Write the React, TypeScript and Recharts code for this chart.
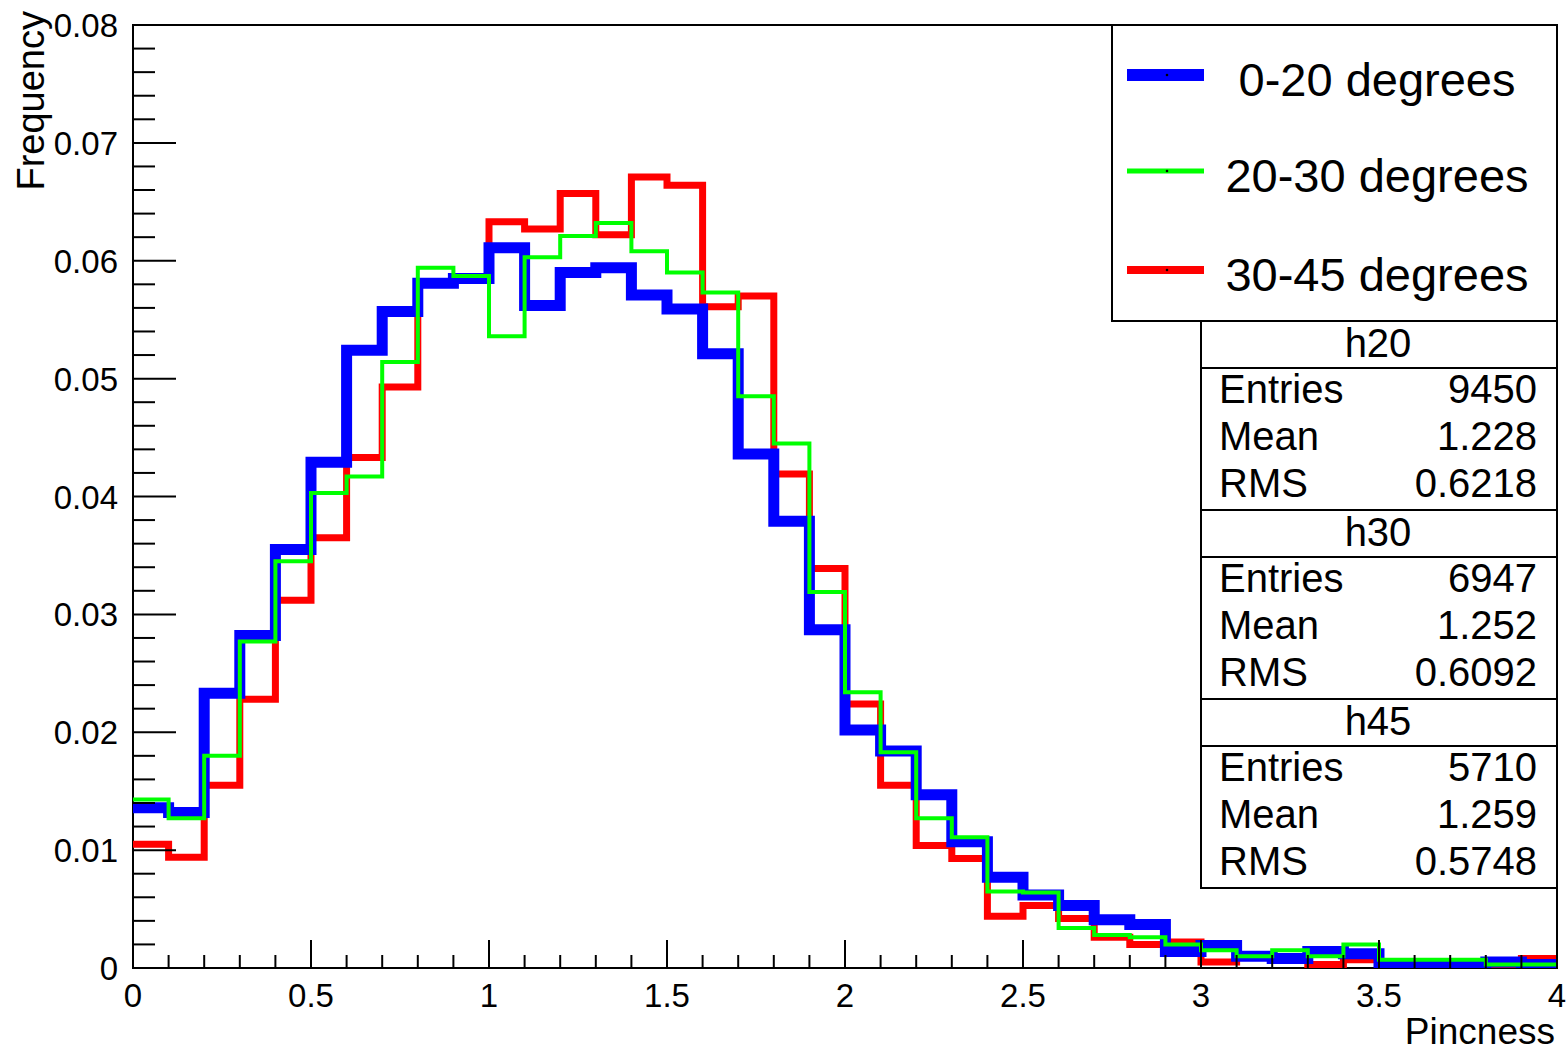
import React from "react"
import { LineChart, Line, XAxis, YAxis, ReferenceArea, Legend } from "recharts"

const FONT = "'Liberation Sans', Arial, Helvetica, sans-serif"

// bin edges (40 bins of width 0.1 from 0 to 4)
const binEdges = [
  0, 0.1, 0.2, 0.3, 0.4, 0.5, 0.6, 0.7, 0.8, 0.9,
  1, 1.1, 1.2, 1.3, 1.4, 1.5, 1.6, 1.7, 1.8, 1.9,
  2, 2.1, 2.2, 2.3, 2.4, 2.5, 2.6, 2.7, 2.8, 2.9,
  3, 3.1, 3.2, 3.3, 3.4, 3.5, 3.6, 3.7, 3.8, 3.9, 4,
]

// 0-20 degrees
const h20 = [
  0.0136, 0.0132, 0.0233, 0.0282, 0.0355, 0.0429, 0.0524, 0.0557, 0.0581, 0.0585,
  0.0611, 0.0562, 0.059, 0.0594, 0.0571, 0.0559, 0.0521, 0.0436, 0.0379, 0.0287,
  0.0202, 0.0184, 0.0147, 0.0107, 0.0077, 0.0062, 0.0053, 0.0041, 0.0037, 0.0014,
  0.0019, 0.001, 0.0008, 0.0014, 0.0012, 0.0002, 0.0002, 0.0002, 0.0005, 0.0003,
]

// 20-30 degrees
const h30 = [
  0.0143, 0.0127, 0.018, 0.0277, 0.0345, 0.0403, 0.0417, 0.0514, 0.0594, 0.0587,
  0.0536, 0.0603, 0.0621, 0.0632, 0.0608, 0.059, 0.0573, 0.0485, 0.0445, 0.0319,
  0.0234, 0.0183, 0.0127, 0.0111, 0.0065, 0.0064, 0.0034, 0.0028, 0.0026, 0.002,
  0.0015, 0.001, 0.0015, 0.001, 0.002, 0.0007, 0.0007, 0.0007, 0.0003, 0.0003,
]

// 30-45 degrees
const h45 = [
  0.0105, 0.0094, 0.0155, 0.0228, 0.0312, 0.0365, 0.0433, 0.0493, 0.058, 0.0585,
  0.0633, 0.0627, 0.0657, 0.0622, 0.0671, 0.0664, 0.0561, 0.057, 0.0419, 0.0339,
  0.0224, 0.0155, 0.0104, 0.0093, 0.0044, 0.0053, 0.0042, 0.0026, 0.002, 0.0022,
  0.0005, 0.001, 0.0008, 0.0003, 0.0007, 0, 0.0001, 0.0001, 0.0003, 0.0008,
]

const yTicks = [
  0, 0.002, 0.004, 0.006, 0.008, 0.01, 0.012, 0.014, 0.016, 0.018,
  0.02, 0.022, 0.024, 0.026, 0.028, 0.03, 0.032, 0.034, 0.036, 0.038,
  0.04, 0.042, 0.044, 0.046, 0.048, 0.05, 0.052, 0.054, 0.056, 0.058,
  0.06, 0.062, 0.064, 0.066, 0.068, 0.07, 0.072, 0.074, 0.076, 0.078, 0.08,
]

const series = [
  { key: "h20", label: "0-20 degrees", color: "#0000ff", width: 11 },
  { key: "h30", label: "20-30 degrees", color: "#00ff00", width: 4 },
  { key: "h45", label: "30-45 degrees", color: "#ff0000", width: 7 },
]

const stats = [
  { name: "h20", entries: "9450", mean: "1.228", rms: "0.6218" },
  { name: "h30", entries: "6947", mean: "1.252", rms: "0.6092" },
  { name: "h45", entries: "5710", mean: "1.259", rms: "0.5748" },
]

// stepAfter needs one extra point at the upper edge repeating the last bin
const data = binEdges.map((x, i) => {
  const j = Math.min(i, h20.length - 1)
  return { x, h20: h20[j], h30: h30[j], h45: h45[j] }
})

function YTick(props: any) {
  const { x, y, payload } = props
  const v = payload.value as number
  const major = Math.round(v * 1000) % 10 === 0
  return (
    <g>
      <line x1={x} x2={x + (major ? 43 : 22)} y1={y} y2={y} stroke="#000" strokeWidth={2} />
      {major && (
        <text x={x - 15} y={y} dy={12} textAnchor="end" fontSize={33} fontFamily={FONT} fill="#000">
          {v === 0 ? "0" : v.toFixed(2)}
        </text>
      )}
    </g>
  )
}

function XTick(props: any) {
  const { x, y, payload } = props
  const v = payload.value as number
  const major = Math.round(v * 10) % 5 === 0
  return (
    <g>
      <line x1={x} x2={x} y1={y} y2={y - (major ? 28 : 13)} stroke="#000" strokeWidth={2} />
      {major && (
        <text x={x} y={y + 39} textAnchor="middle" fontSize={33} fontFamily={FONT} fill="#000">
          {String(Number(v.toFixed(1)))}
        </text>
      )}
    </g>
  )
}

function LegendBox() {
  return (
    <svg width={447} height={298} style={{ display: "block" }}>
      <rect x={1} y={1} width={445} height={296} fill="#fff" stroke="#000" strokeWidth={2} />
      {series.map((s, i) => {
        const ly = [51, 147, 246][i]
        return (
          <g key={s.key}>
            <line x1={16} x2={93} y1={ly} y2={ly} stroke={s.color} strokeWidth={s.width + 1} />
            <circle cx={56} cy={ly} r={1.3} fill="#000" />
            <text x={266} y={ly + 21} textAnchor="middle" fontSize={47} fontFamily={FONT} fill="#000">
              {s.label}
            </text>
          </g>
        )
      })}
    </svg>
  )
}

function StatsBox() {
  return (
    <svg width={358} height={570} style={{ position: "absolute", left: 1200, top: 320 }}>
      {stats.map((s, i) => {
        const top = 1 + i * 189
        return (
          <g key={s.name} fontFamily={FONT} fontSize={40} fill="#000">
            <rect x={1} y={top} width={356} height={189} fill="#fff" stroke="#000" strokeWidth={2} />
            <line x1={1} x2={357} y1={top + 47} y2={top + 47} stroke="#000" strokeWidth={2} />
            <text x={178} y={top + 36} textAnchor="middle">{s.name}</text>
            <text x={19} y={top + 82}>Entries</text>
            <text x={337} y={top + 82} textAnchor="end">{s.entries}</text>
            <text x={19} y={top + 129}>Mean</text>
            <text x={337} y={top + 129} textAnchor="end">{s.mean}</text>
            <text x={19} y={top + 176}>RMS</text>
            <text x={337} y={top + 176} textAnchor="end">{s.rms}</text>
          </g>
        )
      })}
    </svg>
  )
}

export default function App() {
  return (
    <div style={{ position: "absolute", left: 0, top: 0, width: 1568, height: 1054, background: "#fff", fontFamily: FONT }}>
      <LineChart width={1568} height={1054} data={data} margin={{ top: 25, right: 11, left: 0, bottom: 0 }}>
        <XAxis
          dataKey="x"
          type="number"
          domain={[0, 4]}
          ticks={binEdges}
          interval={0}
          allowDataOverflow
          axisLine={false}
          tickLine={false}
          tickSize={0}
          tickMargin={0}
          height={86}
          tick={XTick}
          label={(p: any) => {
            const vb = p.viewBox
            return (
              <text x={vb.x + vb.width - 2} y={vb.y + 76} textAnchor="end" fontSize={37} fontFamily={FONT} fill="#000">
                Pincness
              </text>
            )
          }}
        />
        <YAxis
          type="number"
          domain={[0, 0.08]}
          ticks={yTicks}
          interval={0}
          allowDataOverflow
          axisLine={false}
          tickLine={false}
          tickSize={0}
          tickMargin={0}
          width={133}
          tick={YTick}
          label={(p: any) => {
            const vb = p.viewBox
            const tx = 44
            const ty = vb.y - 14
            return (
              <text x={tx} y={ty} transform={`rotate(-90, ${tx}, ${ty})`} textAnchor="end" fontSize={38} fontFamily={FONT} fill="#000">
                Frequency
              </text>
            )
          }}
        />
        <ReferenceArea x1={0} x2={4} y1={0} y2={0.08} fill="none" stroke="#000" strokeWidth={2} ifOverflow="visible" />
        <Line dataKey="h45" type="stepAfter" stroke="#ff0000" strokeWidth={7} dot={false} strokeLinejoin="miter" isAnimationActive={false} />
        <Line dataKey="h20" type="stepAfter" stroke="#0000ff" strokeWidth={11} dot={false} strokeLinejoin="miter" isAnimationActive={false} />
        <Line dataKey="h30" type="stepAfter" stroke="#00ff00" strokeWidth={4} dot={false} strokeLinejoin="miter" isAnimationActive={false} />
        <Legend
          layout="horizontal"
          verticalAlign="middle"
          align="center"
          wrapperStyle={{ left: 1111, top: 24, width: 447, height: 298 }}
          content={() => <LegendBox />}
        />
      </LineChart>
      <StatsBox />
    </div>
  )
}
